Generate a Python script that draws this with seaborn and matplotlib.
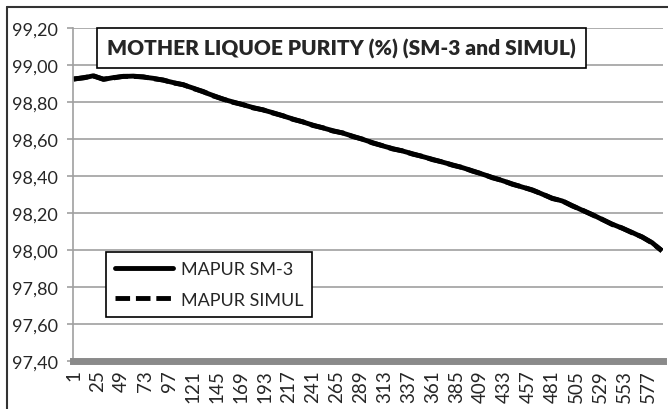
import numpy as np
import pandas as pd
import matplotlib
matplotlib.use('Agg')
import matplotlib.pyplot as plt
import seaborn as sns
from matplotlib.lines import Line2D
from matplotlib.ticker import FuncFormatter, FixedLocator

# 数据：类别编号（每10个取一个读数）
categories = [1, 11, 21, 31, 41, 51, 61, 71, 81, 91,
              101, 111, 121, 131, 141, 151, 161, 171, 181, 191,
              201, 211, 221, 231, 241, 251, 261, 271, 281, 291,
              301, 311, 321, 331, 341, 351, 361, 371, 381, 391,
              401, 411, 421, 431, 441, 451, 461, 471, 481, 491,
              501, 511, 521, 531, 541, 551, 561, 571, 581, 591]

mapur_sm3 = [98.925, 98.930, 98.942, 98.922, 98.932, 98.938, 98.940, 98.935, 98.928, 98.918,
             98.905, 98.893, 98.875, 98.855, 98.835, 98.815, 98.800, 98.785, 98.770, 98.757,
             98.742, 98.725, 98.708, 98.692, 98.675, 98.660, 98.645, 98.632, 98.615, 98.598,
             98.580, 98.563, 98.548, 98.535, 98.520, 98.505, 98.490, 98.475, 98.460, 98.445,
             98.428, 98.410, 98.392, 98.375, 98.357, 98.340, 98.325, 98.302, 98.280, 98.265,
             98.240, 98.215, 98.192, 98.165, 98.140, 98.118, 98.095, 98.070, 98.040, 97.995]

mapur_simul = [98.923, 98.932, 98.940, 98.924, 98.930, 98.939, 98.938, 98.936, 98.926, 98.919,
               98.903, 98.894, 98.873, 98.857, 98.833, 98.816, 98.798, 98.786, 98.768, 98.758,
               98.740, 98.726, 98.706, 98.693, 98.673, 98.661, 98.643, 98.633, 98.613, 98.599,
               98.578, 98.564, 98.546, 98.536, 98.518, 98.506, 98.488, 98.476, 98.458, 98.446,
               98.426, 98.411, 98.390, 98.376, 98.355, 98.341, 98.323, 98.303, 98.278, 98.266,
               98.238, 98.216, 98.190, 98.166, 98.138, 98.119, 98.093, 98.071, 98.038, 97.996]

x_tick_labels = list(range(1, 578, 24))
y_ticks = [97.40, 97.60, 97.80, 98.00, 98.20, 98.40, 98.60, 98.80, 99.00, 99.20]

series_names = ['MAPUR SM-3', 'MAPUR SIMUL']

df = pd.DataFrame({
    'cat': categories * 2,
    'value': mapur_sm3 + mapur_simul,
    'series': [series_names[0]] * len(categories) + [series_names[1]] * len(categories),
})

sns.set_style('white')
plt.rcParams['font.family'] = ['Lato', 'DejaVu Sans']

fig = plt.figure(figsize=(6.68, 4.10), dpi=100)
ax = fig.add_axes([73 / 668, 1 - 362 / 410, 590 / 668, 333 / 410])

sns.lineplot(data=df, x='cat', y='value', hue='series', style='series',
             palette=['black', 'black'], dashes=[(1, 0), (3, 1.2)],
             linewidth=3.5, ax=ax, legend=False, sort=False)

ax.set_xlim(0.5, 592)
ax.set_ylim(97.40, 99.20)
ax.set_xlabel('')
ax.set_ylabel('')

# 网格线与坐标轴
ax.yaxis.set_major_locator(FixedLocator(y_ticks))
ax.yaxis.set_major_formatter(FuncFormatter(lambda v, p: f'{v:.2f}'.replace('.', ',')))
ax.grid(axis='y', color='#a0a0a0', linewidth=1.2)
ax.grid(axis='x', visible=False)
ax.set_axisbelow(True)

for s in ['top', 'right']:
    ax.spines[s].set_visible(False)
ax.spines['left'].set_color('#a0a0a0')
ax.spines['left'].set_linewidth(1.2)
ax.spines['bottom'].set_color('#8a8a8a')
ax.spines['bottom'].set_linewidth(5)
ax.spines['bottom'].set_zorder(3)

ax.set_xticks(x_tick_labels)
ax.set_xticklabels([str(v) for v in x_tick_labels], rotation=90, fontsize=13.5)
ax.tick_params(axis='x', length=0, pad=6)
ax.tick_params(axis='y', left=True, length=4, width=1.2, color='#a0a0a0',
               labelsize=13, pad=7)

# 标题框
ax.text(0.455, 0.94, 'MOTHER LIQUOE PURITY (%) (SM-3 and SIMUL)', transform=ax.transAxes,
        ha='center', va='center', fontsize=15, fontweight='heavy', zorder=5,
        bbox=dict(boxstyle='square,pad=0.5', facecolor='white', edgecolor='black', linewidth=1.2))

# 图例
handles = [Line2D([], [], color='black', linewidth=3.5),
           Line2D([], [], color='black', linewidth=3.5, dashes=(3, 1.2))]
leg = ax.legend(handles, series_names, loc='upper left', bbox_to_anchor=(0.056, 0.327),
                borderaxespad=0, fancybox=False, framealpha=1, edgecolor='black',
                fontsize=13, handlelength=3.2, handletextpad=0.45, labelspacing=0.8,
                borderpad=0.5)
leg.get_frame().set_linewidth(1.2)

# 外框
fig.add_artist(Line2D([7 / 668, 7 / 668], [0, 1 - 8 / 410], color='#333333', linewidth=1.5,
                      transform=fig.transFigure))
fig.add_artist(Line2D([7 / 668, 1], [1 - 8 / 410, 1 - 8 / 410], color='#333333', linewidth=1.5,
                      transform=fig.transFigure))

fig.savefig('out.png', dpi=100)
